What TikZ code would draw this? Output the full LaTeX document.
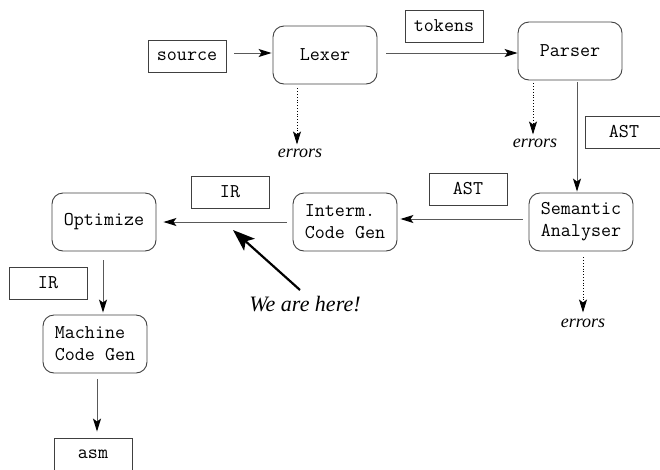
\documentclass[tikz,border=0pt]{standalone}
\usepackage{fontspec}
\setmainfont{Liberation Serif}
\usetikzlibrary{arrows.meta,calc}
\begin{document}
\begin{tikzpicture}[x=1pt,y=-1pt,
  every node/.style={inner sep=0pt},
  lbl/.style={draw=black!75, line width=0.9pt, minimum width=78pt, minimum height=32pt, font=\fontsize{19.5}{22}\selectfont\ttfamily},
  stage/.style={draw=black!75, line width=0.9pt, rounded corners=11pt, minimum width=104pt, minimum height=58pt, align=left, font=\fontsize{19.5}{22}\selectfont\ttfamily},
  flow/.style={draw=black!65, line width=0.9pt, -{Stealth[length=13pt,width=8pt,inset=3pt]}, arrows={[color=black]}},
  err/.style={draw=black, line width=0.8pt, dotted, -{Stealth[length=13pt,width=8pt,inset=3pt]}},
  errtxt/.style={font=\fontsize{18}{20}\selectfont\itshape},
  big/.style={draw=black, line width=2.2pt, -{Stealth[length=22pt,width=16pt,inset=5pt]}}
]
\useasboundingbox (0,0) rectangle (660,469);

\node[lbl] (source) at (187,56) {source};
\node[stage] (lexer) at (325,55) {Lexer};
\node[lbl] (tokens) at (444,26) {tokens};
\node[stage] (parser) at (570,51) {Parser};
\node[lbl] (ast1) at (624,132) {AST};
\node[stage] (semantic) at (581,222) {Semantic\\Analyser};
\node[lbl] (ast2) at (468,189) {AST};
\node[stage] (interm) at (345,222) {Interm.\\Code Gen};
\node[lbl] (ir1) at (230,192) {IR};
\node[stage] (optimize) at (104,222) {Optimize};
\node[lbl] (ir2) at (48,283) {IR};
\node[stage] (machine) at (95,344) {Machine\\Code Gen};
\node[lbl] (asm) at (93,454) {asm};

\node[errtxt] (e1) at (300,153) {errors};
\node[errtxt] (e2) at (535,143) {errors};
\node[errtxt] (e3) at (583,323) {errors};
\node[font=\fontsize{22}{26}\selectfont\itshape] (here) at (305,304) {We are here!};
\coordinate (target) at (233,230);

\draw[flow] ($(source.east)+(8,-3)$) -- ($(lexer.west)+(-1,-2)$);
\draw[flow] ($(lexer.east)+(9,-2)$) -- ($(parser.west)+(0,2)$);
\draw[flow] ($(parser.south)+(7,2)$) -- ($(semantic.north)+(-4,-1)$);
\draw[flow] ($(semantic.west)+(-6,-3)$) -- ($(interm.east)+(3,-3)$);
\draw[flow] ($(interm.west)+(-6,0)$) -- ($(optimize.east)+(7,0)$);
\draw[flow] ($(optimize.south)+(-1,9)$) -- ($(machine.north)+(8,-2)$);
\draw[flow] ($(machine.south)+(2,6)$) -- ($(asm.north)+(4,-6)$);

\draw[err] ($(lexer.south)+(-28,4)$) -- ($(e1.north)+(-3,-4)$);
\draw[err] ($(parser.south)+(-37,3)$) -- ($(e2.north)+(-2,-4)$);
\draw[err] ($(semantic.south)+(2,6)$) -- ($(e3.north)+(0,-6)$);

\draw[big] (here.north) ++(-5,-6) -- (target);
\end{tikzpicture}
\end{document}
